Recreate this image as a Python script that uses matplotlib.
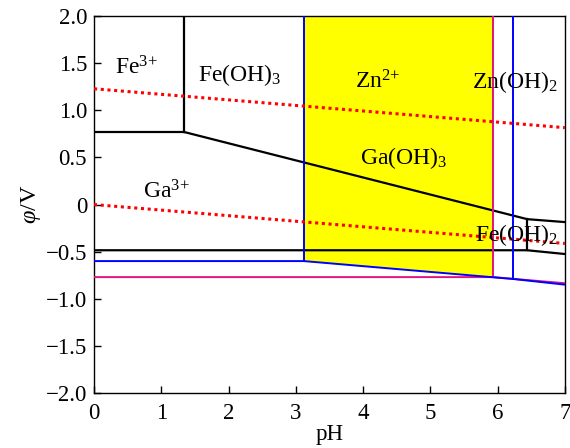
import matplotlib
matplotlib.use("Agg")
import matplotlib.pyplot as plt

plt.rcParams["font.family"] = ["Liberation Serif", "DejaVu Serif"]
plt.rcParams["mathtext.fontset"] = "custom"
plt.rcParams["mathtext.rm"] = "Liberation Serif"
plt.rcParams["mathtext.it"] = "Liberation Serif:italic"

# Water stability lines (dotted)
o2_ph = [0, 7]
o2_phi = [1.229, 0.816]
h2_ph = [0, 7]
h2_phi = [0.0, -0.413]

# Iron / gallium boundaries (black)
fe3_vert_ph = [1.34, 1.34]
fe3_vert_phi = [2.0, 0.77]
fe3_horiz_ph = [0, 1.34]
fe3_horiz_phi = [0.77, 0.77]
feoh3_ph = [1.34, 6.44, 7.0]
feoh3_phi = [0.77, -0.155, -0.186]
feoh2_vert_ph = [6.44, 6.44]
feoh2_vert_phi = [-0.155, -0.485]
ga_low_ph = [0, 6.44, 7.0]
ga_low_phi = [-0.485, -0.485, -0.525]

# Gallium hydroxide boundaries (blue)
ga_vert_ph = [3.12, 3.12]
ga_vert_phi = [2.0, -0.60]
ga_blue_ph = [0, 3.12, 6.23, 7.0]
ga_blue_phi = [-0.60, -0.60, -0.79, -0.85]
gaoh_vert2_ph = [6.23, 6.23]
gaoh_vert2_phi = [2.0, -0.79]

# Zinc boundaries (magenta)
zn_vert_ph = [5.93, 5.93]
zn_vert_phi = [2.0, -0.77]
zn_low_ph = [0, 5.93, 7.0]
zn_low_phi = [-0.77, -0.77, -0.835]

# Shaded Zn2+ / Ga(OH)3 window
win_ph = [3.12, 5.93]
win_low = [-0.60, -0.772]

labels = [
    (r"Fe$^{3{+}}$", 0.63, 1.45),
    (r"Fe(OH)$_3$", 2.17, 1.37),
    (r"Zn$^{2{+}}$", 4.22, 1.30),
    (r"Zn(OH)$_2$", 6.26, 1.30),
    (r"Ga(OH)$_3$", 4.6, 0.49),
    (r"Ga$^{3{+}}$", 1.08, 0.13),
    (r"Fe(OH)$_2$", 6.28, -0.32),
]

xticks = [0, 1, 2, 3, 4, 5, 6, 7]
yticks = [2.0, 1.5, 1.0, 0.5, 0.0, -0.5, -1.0, -1.5, -2.0]
ytick_labels = ["2.0", "1.5", "1.0", "0.5", "0", "\u22120.5", "\u22121.0", "\u22121.5", "\u22122.0"]

fig = plt.figure(figsize=(5.70, 4.48), dpi=100)
ax = fig.add_axes([0.165, 0.1228, 0.826, 0.8412])

ax.fill_between(win_ph, win_low, [2.0, 2.0], color="#ffff00", linewidth=0, zorder=1)

ax.plot(o2_ph, o2_phi, color="#ff0000", linestyle=(0, (1, 1.2)), linewidth=2.2, zorder=4)
ax.plot(h2_ph, h2_phi, color="#ff0000", linestyle=(0, (1, 1.2)), linewidth=2.2, zorder=4)

black = dict(color="black", linewidth=1.6, zorder=3)
for xs, ys in [(fe3_vert_ph, fe3_vert_phi), (fe3_horiz_ph, fe3_horiz_phi),
               (feoh3_ph, feoh3_phi), (feoh2_vert_ph, feoh2_vert_phi),
               (ga_low_ph, ga_low_phi)]:
    ax.plot(xs, ys, **black)

mag = dict(color="#e0147f", linewidth=1.4, zorder=3)
ax.plot(zn_vert_ph, zn_vert_phi, **mag)
ax.plot(zn_low_ph, zn_low_phi, **mag)

blue = dict(color="#0000ff", linewidth=1.4, zorder=3)
ax.plot(ga_vert_ph, ga_vert_phi, **blue)
ax.plot(ga_blue_ph, ga_blue_phi, **blue)
ax.plot(gaoh_vert2_ph, gaoh_vert2_phi, **blue)

for txt, x, y in labels:
    ax.text(x, y, txt, fontsize=17, ha="center", va="center", zorder=5)

ax.set_xlim(0, 7)
ax.set_ylim(-2.0, 2.0)
ax.set_xticks(xticks)
ax.set_xticklabels([str(v) for v in xticks])
ax.set_yticks(yticks)
ax.set_yticklabels(ytick_labels)
ax.tick_params(direction="in", length=5, width=1, labelsize=16.5, pad=5)
ax.tick_params(axis="x", pad=7)
for s in ax.spines.values():
    s.set_linewidth(1.0)

ax.set_xlabel("pH", fontsize=16.5, labelpad=0)
ax.set_ylabel(r"$\mathit{\varphi}$/V", fontsize=17.5, labelpad=2)

fig.savefig("out.png", dpi=100)
